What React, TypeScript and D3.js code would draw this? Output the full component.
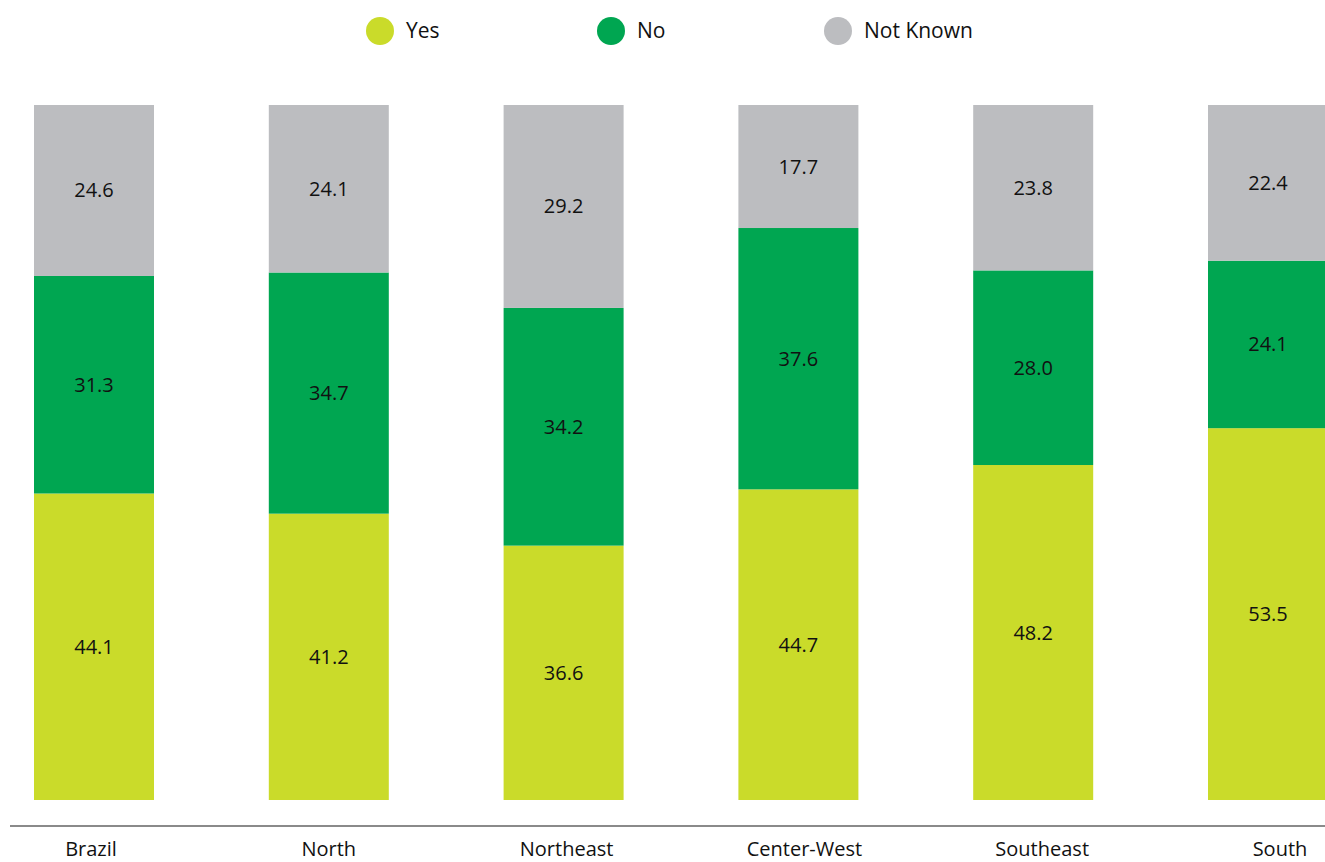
import React from "react";
import * as d3 from "d3";

const categories = ["Brazil", "North", "Northeast", "Center-West", "Southeast", "South"];
const yesValues = [44.1, 41.2, 36.6, 44.7, 48.2, 53.5];
const noValues = [31.3, 34.7, 34.2, 37.6, 28.0, 24.1];
const notKnownValues = [24.6, 24.1, 29.2, 17.7, 23.8, 22.4];
const seriesNames = ["Yes", "No", "Not Known"];
const seriesColors = ["#CADB2A", "#00A651", "#BCBDC0"];

const W = 1325;
const H = 862;
const FONT = "'Open Sans', 'Noto Sans', sans-serif";

export default function App() {
  const rows = categories.map((c, i) => ({
    cat: c,
    Yes: yesValues[i],
    No: noValues[i],
    "Not Known": notKnownValues[i],
  }));
  const stack = d3.stack<any>().keys(seriesNames)(rows);

  const xb = d3
    .scaleLinear()
    .domain([0, categories.length - 1])
    .range([34, 1208]);
  const barW = 120;
  const y = d3.scaleLinear().domain([0, 100]).range([800, 105]);
  const xLabel = d3.scalePoint<string>().domain(categories).range([91, 1280]);

  return (
    <svg
      width={W}
      height={H}
      style={{ position: "absolute", left: 0, top: 0, background: "#fff" }}
      fontFamily={FONT}
    >
      {/* legend */}
      {seriesNames.map((s, i) => {
        const lx = [380, 611, 838][i];
        return (
          <g key={s}>
            <circle cx={lx} cy={31} r={14} fill={seriesColors[i]} />
            <text x={lx + 26} y={31} dy="0.35em" fontSize={21} fill="#111">
              {s}
            </text>
          </g>
        );
      })}

      {/* bars */}
      {stack.map((layer, si) => (
        <g key={seriesNames[si]}>
          {layer.map((d, ci) => {
            const x0 = xb(ci);
            const y0 = y(d[1]);
            const y1 = y(d[0]);
            return (
              <g key={ci}>
                <rect x={x0} y={y0} width={barW} height={y1 - y0} fill={seriesColors[si]} />
                <text
                  x={x0 + barW / 2}
                  y={(y0 + y1) / 2}
                  dy="0.35em"
                  textAnchor="middle"
                  fontSize={20}
                  fill="#111"
                >
                  {(d[1] - d[0]).toFixed(1)}
                </text>
              </g>
            );
          })}
        </g>
      ))}

      {/* axis */}
      <line x1={10} x2={W} y1={826} y2={826} stroke="#8a8a8a" strokeWidth={2} />
      {categories.map((c) => (
        <text key={c} x={xLabel(c)} y={856} textAnchor="middle" fontSize={20} fill="#111">
          {c}
        </text>
      ))}
    </svg>
  );
}
